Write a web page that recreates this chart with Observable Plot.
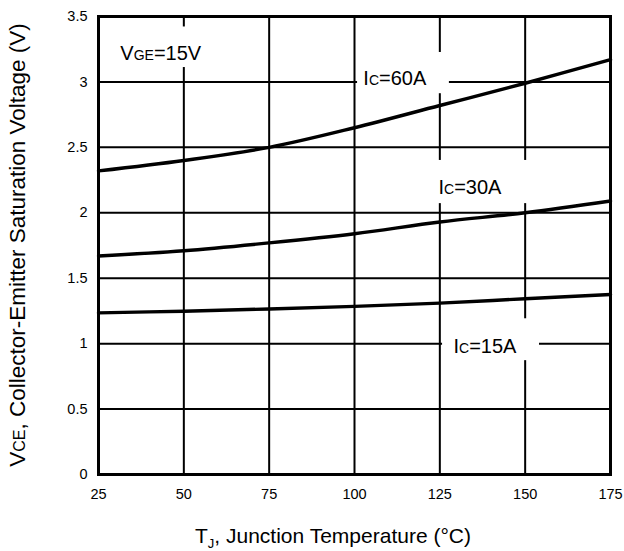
<!DOCTYPE html>
<html>
<head>
<meta charset="utf-8">
<script src="https://cdn.jsdelivr.net/npm/d3@7"></script>
<script src="https://cdn.jsdelivr.net/npm/@observablehq/plot@0.6"></script>
<style>
  html, body { margin: 0; padding: 0; background: #fff; }
  svg { display: block; }
</style>
</head>
<body>
<div id="chart"></div>
<script>
// Junction temperature (°C)
const temps = [25, 50, 75, 100, 125, 150, 175];
// V_CE(sat) series (V)
const ic60 = [2.32, 2.40, 2.50, 2.65, 2.82, 2.99, 3.17];
const ic30 = [1.67, 1.71, 1.77, 1.84, 1.93, 2.00, 2.09];
const ic15 = [1.235, 1.248, 1.265, 1.285, 1.31, 1.343, 1.375];
const seriesNames = ["IC=60A", "IC=30A", "IC=15A"];
const seriesValues = [ic60, ic30, ic15];

const xTicks = [25, 50, 75, 100, 125, 150, 175];
const yTicks = [0, 0.5, 1, 1.5, 2, 2.5, 3, 3.5];
const xGrid = [50, 75, 100, 125, 150];
const yGrid = [0.5, 1, 1.5, 2, 2.5, 3];

// Annotations (data units): text anchor + white box behind
const labels = [
  {main: "V", sub: "GE", rest: "=15V", x: 31.4, y: 3.164, x1: 29.0, x2: 58.6, y1: 3.11, y2: 3.42},
  {main: "I", sub: "C", rest: "=60A", x: 102.6, y: 2.973, x1: 100.9, x2: 127.8, y1: 2.91, y2: 3.225},
  {main: "I", sub: "C", rest: "=30A", x: 124.6, y: 2.147, x1: 122.3, x2: 150.7, y1: 2.07, y2: 2.40},
  {main: "I", sub: "C", rest: "=15A", x: 129.0, y: 0.932, x1: 125.8, x2: 154.2, y1: 0.87, y2: 1.19}
];

const rows = [];
seriesNames.forEach((s, k) => temps.forEach((t, i) => rows.push({series: s, t, v: seriesValues[k][i]})));

const font = "'Liberation Sans', Arial, sans-serif";

const chart = Plot.plot({
  width: 624,
  height: 551,
  marginLeft: 98,
  marginRight: 14,
  marginTop: 16,
  marginBottom: 77,
  style: {fontFamily: font, fontSize: "14.5px", color: "#000", background: "#fff"},
  x: {domain: [25, 175]},
  y: {domain: [0, 3.5]},
  marks: [
    Plot.ruleX(xGrid, {stroke: "#000", strokeWidth: 2}),
    Plot.ruleY(yGrid, {stroke: "#000", strokeWidth: 2}),
    Plot.rect(labels, {x1: "x1", x2: "x2", y1: "y1", y2: "y2", fill: "#fff"}),
    Plot.line(rows, {x: "t", y: "v", z: "series", stroke: "#000", strokeWidth: 3.4, curve: "catmull-rom"}),
    Plot.frame({stroke: "#000", strokeWidth: 3}),
    Plot.axisX({ticks: xTicks, tickSize: 0, tickPadding: 14, label: null, fontSize: 14.5, fill: "#000"}),
    Plot.axisY({ticks: yTicks, tickSize: 0, tickPadding: 11, label: null, fontSize: 14.5, fill: "#000", tickFormat: d => String(d)}),
    Plot.text(labels, {
      x: "x", y: "y", text: d => d.main + d.sub + d.rest,
      textAnchor: "start", lineAnchor: "bottom", fontSize: 20, fill: "#000",
      render(index, scales, values, dims, ctx, next) {
        const g = next(index, scales, values, dims, ctx);
        d3.select(g).selectAll("text").each(function(_, j) {
          const d = labels[index[j]];
          const t = d3.select(this);
          t.text(null);
          t.append("tspan").text(d.main);
          t.append("tspan").attr("font-size", 14).text(d.sub);
          t.append("tspan").text(d.rest);
        });
        return g;
      }
    })
  ]
});

const svg = d3.select(chart);
const ys = chart.scale("y");
const cy = (ys.apply(0) + ys.apply(3.5)) / 2;

const xt = svg.append("text")
  .attr("x", 333).attr("y", 543)
  .attr("text-anchor", "middle")
  .attr("font-size", 21).attr("fill", "#000")
  .attr("font-family", font);
xt.append("tspan").text("T");
xt.append("tspan").attr("font-size", 13).attr("dy", 5).text("J");
xt.append("tspan").attr("dy", -5).text(", Junction Temperature (°C)");

const yt = svg.append("text")
  .attr("transform", `translate(25,${cy}) rotate(-90)`)
  .attr("text-anchor", "middle")
  .attr("font-size", 22.5).attr("fill", "#000")
  .attr("font-family", font);
yt.append("tspan").text("V");
yt.append("tspan").attr("font-size", 16).text("CE");
yt.append("tspan").text(", Collector-Emitter Saturation Voltage (V)");

document.getElementById("chart").appendChild(chart);
</script>
</body>
</html>
